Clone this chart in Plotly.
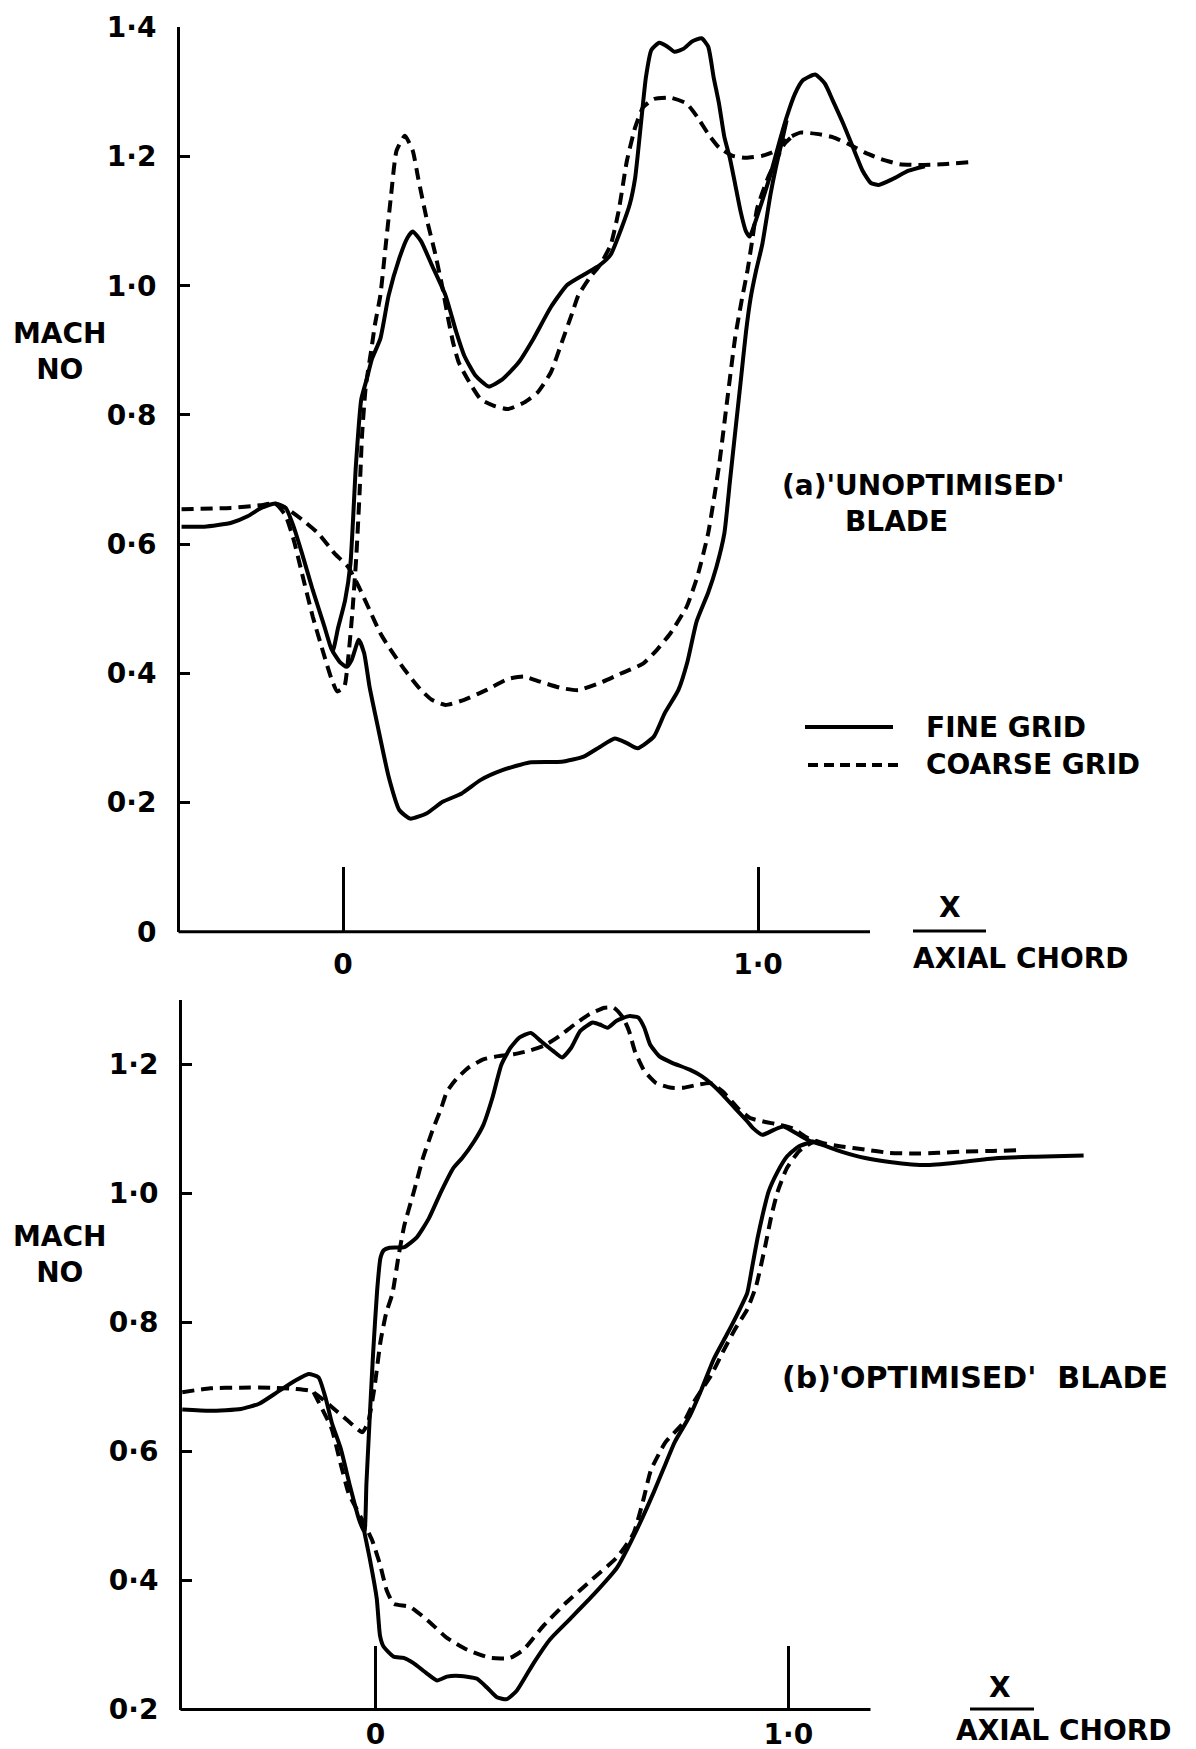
import plotly.graph_objects as go

W, H = 1196, 1749

# ---------------- data : (a) 'unoptimised' blade ----------------
# suction surface (incl. upstream and wake), x / axial chord and Mach no
a_fine_up_x = [-0.389, -0.334, -0.269, -0.230, -0.197, -0.164, -0.138, -0.119, -0.099, -0.073,
               -0.047, -0.025, -0.012, 0.005, 0.018, 0.031, 0.044, 0.057, 0.070, 0.090,
               0.110, 0.136, 0.155, 0.168, 0.188, 0.214, 0.247, 0.273, 0.292, 0.319,
               0.351, 0.384, 0.423, 0.459, 0.501, 0.540, 0.580, 0.619, 0.645, 0.671,
               0.691, 0.704, 0.717, 0.730, 0.743, 0.762, 0.782, 0.799, 0.821, 0.841,
               0.864, 0.880, 0.893, 0.906, 0.919, 0.932, 0.945, 0.958, 0.971, 0.980,
               0.991, 1.010, 1.030, 1.050, 1.069, 1.089, 1.108, 1.138, 1.161, 1.180,
               1.206, 1.232, 1.252, 1.272, 1.291, 1.324, 1.363, 1.402]
a_fine_up_m = [0.627, 0.627, 0.633, 0.643, 0.656, 0.663, 0.656, 0.627, 0.586, 0.529,
               0.477, 0.434, 0.470, 0.513, 0.570, 0.721, 0.824, 0.855, 0.887, 0.918,
               0.985, 1.043, 1.074, 1.084, 1.069, 1.032, 0.985, 0.928, 0.892, 0.861,
               0.844, 0.855, 0.881, 0.918, 0.967, 1.001, 1.017, 1.032, 1.048, 1.089,
               1.126, 1.167, 1.245, 1.323, 1.365, 1.376, 1.370, 1.362, 1.367, 1.378,
               1.383, 1.370, 1.323, 1.282, 1.230, 1.198, 1.157, 1.115, 1.084, 1.076,
               1.094, 1.131, 1.172, 1.219, 1.261, 1.297, 1.318, 1.327, 1.313, 1.287,
               1.250, 1.209, 1.178, 1.159, 1.156, 1.165, 1.178, 1.185]
# pressure surface
a_fine_lo_x = [-0.025, -0.007, 0.009, 0.021, 0.038, 0.051, 0.064, 0.084, 0.110, 0.136,
               0.162, 0.201, 0.240, 0.286, 0.332, 0.384, 0.449, 0.527, 0.580, 0.619,
               0.655, 0.684, 0.710, 0.749, 0.775, 0.808, 0.830, 0.852, 0.880, 0.900,
               0.919, 0.932, 0.945, 0.958, 0.971, 0.982, 0.996, 1.010, 1.030, 1.043,
               1.056, 1.069]
a_fine_lo_m = [0.434, 0.417, 0.410, 0.421, 0.452, 0.431, 0.379, 0.317, 0.240, 0.188,
               0.175, 0.183, 0.201, 0.214, 0.235, 0.250, 0.262, 0.263, 0.271, 0.286,
               0.299, 0.292, 0.284, 0.302, 0.338, 0.374, 0.418, 0.480, 0.525, 0.565,
               0.617, 0.695, 0.773, 0.850, 0.928, 0.980, 1.025, 1.063, 1.141, 1.183,
               1.219, 1.256]
a_coarse_up_x = [-0.389, -0.271, -0.200, -0.164, -0.139, -0.119, -0.099, -0.073, -0.047, -0.027,
                 -0.014, 0.003, 0.012, 0.022, 0.032, 0.040, 0.046, 0.055, 0.068, 0.077,
                 0.090, 0.103, 0.116, 0.129, 0.149, 0.168, 0.181, 0.201, 0.221, 0.240,
                 0.253, 0.266, 0.279, 0.305, 0.332, 0.364, 0.397, 0.436, 0.469, 0.501,
                 0.527, 0.553, 0.567, 0.593, 0.619, 0.645, 0.664, 0.684, 0.704, 0.723,
                 0.749, 0.789, 0.828, 0.854, 0.880, 0.906, 0.939, 0.971, 1.010, 1.043,
                 1.069, 1.102, 1.141, 1.180, 1.219, 1.258, 1.297, 1.342, 1.389, 1.441,
                 1.507]
a_coarse_up_m = [0.654, 0.656, 0.660, 0.663, 0.645, 0.607, 0.555, 0.488, 0.431, 0.390,
                 0.372, 0.379, 0.420, 0.490, 0.580, 0.680, 0.770, 0.845, 0.900, 0.940,
                 0.985, 1.063, 1.141, 1.209, 1.232, 1.209, 1.167, 1.105, 1.053, 0.996,
                 0.950, 0.910, 0.881, 0.850, 0.824, 0.814, 0.809, 0.819, 0.835, 0.866,
                 0.912, 0.959, 0.985, 1.011, 1.032, 1.063, 1.115, 1.193, 1.245, 1.276,
                 1.289, 1.291, 1.282, 1.261, 1.235, 1.214, 1.201, 1.198, 1.201, 1.209,
                 1.227, 1.237, 1.235, 1.230, 1.219, 1.206, 1.196, 1.188, 1.187, 1.188,
                 1.191]
a_coarse_lo_x = [-0.164, -0.138, -0.099, -0.060, -0.021, 0.012, 0.038, 0.064, 0.090, 0.110,
                 0.149, 0.188, 0.214, 0.247, 0.292, 0.345, 0.397, 0.436, 0.475, 0.527,
                 0.567, 0.619, 0.671, 0.723, 0.756, 0.789, 0.828, 0.854, 0.880, 0.906,
                 0.926, 0.945, 0.960, 0.975, 0.986, 0.998, 1.024, 1.043, 1.063, 1.089]
a_coarse_lo_m = [0.663, 0.656, 0.638, 0.617, 0.586, 0.565, 0.534, 0.498, 0.462, 0.441,
                 0.405, 0.374, 0.359, 0.351, 0.359, 0.374, 0.391, 0.395, 0.387, 0.377,
                 0.374, 0.385, 0.400, 0.415, 0.436, 0.462, 0.503, 0.550, 0.617, 0.721,
                 0.824, 0.920, 0.975, 1.025, 1.070, 1.120, 1.167, 1.193, 1.219, 1.235]

# ---------------- data : (b) 'optimised' blade ----------------
b_fine_up_x = [-0.468, -0.400, -0.326, -0.282, -0.238, -0.194, -0.162, -0.138, -0.120, -0.106,
               -0.084, -0.062, -0.040, -0.027, -0.022, -0.015, -0.006, 0.004, 0.012, 0.020,
               0.034, 0.070, 0.100, 0.129, 0.159, 0.188, 0.210, 0.239, 0.261, 0.283,
               0.305, 0.327, 0.349, 0.376, 0.401, 0.430, 0.452, 0.474, 0.496, 0.526,
               0.543, 0.562, 0.584, 0.614, 0.636, 0.651, 0.665, 0.687, 0.717, 0.761,
               0.790, 0.812, 0.841, 0.871, 0.900, 0.915, 0.937, 0.966, 0.988, 1.025,
               1.054, 1.084, 1.128, 1.186, 1.245, 1.333, 1.421, 1.509, 1.598, 1.715]
b_fine_up_m = [0.665, 0.663, 0.666, 0.674, 0.692, 0.710, 0.720, 0.715, 0.681, 0.645,
               0.604, 0.547, 0.495, 0.475, 0.550, 0.640, 0.750, 0.850, 0.900, 0.912,
               0.916, 0.917, 0.932, 0.961, 1.003, 1.039, 1.055, 1.081, 1.106, 1.148,
               1.200, 1.226, 1.242, 1.249, 1.236, 1.221, 1.211, 1.226, 1.252, 1.265,
               1.262, 1.257, 1.268, 1.275, 1.273, 1.257, 1.231, 1.213, 1.203, 1.192,
               1.182, 1.171, 1.153, 1.132, 1.112, 1.101, 1.091, 1.099, 1.104, 1.091,
               1.081, 1.075, 1.065, 1.055, 1.049, 1.044, 1.049, 1.055, 1.057, 1.059]
b_fine_lo_x = [-0.027, -0.013, 0.003, 0.011, 0.019, 0.044, 0.068, 0.092, 0.124, 0.149,
               0.173, 0.205, 0.245, 0.270, 0.294, 0.318, 0.342, 0.383, 0.423, 0.472,
               0.528, 0.585, 0.633, 0.674, 0.698, 0.725, 0.761, 0.790, 0.819, 0.849,
               0.878, 0.900, 0.912, 0.925, 0.938, 0.952, 0.974, 0.996, 1.025, 1.062]
b_fine_lo_m = [0.475, 0.431, 0.372, 0.314, 0.298, 0.282, 0.280, 0.272, 0.256, 0.245,
               0.251, 0.252, 0.248, 0.234, 0.219, 0.216, 0.229, 0.272, 0.309, 0.341,
               0.378, 0.420, 0.479, 0.537, 0.574, 0.615, 0.655, 0.697, 0.743, 0.779,
               0.815, 0.845, 0.885, 0.930, 0.968, 1.003, 1.034, 1.057, 1.073, 1.081]
b_coarse_up_x = [-0.468, -0.400, -0.326, -0.253, -0.194, -0.157, -0.128, -0.091, -0.062, -0.032,
                 -0.018, -0.003, 0.012, 0.026, 0.041, 0.056, 0.070, 0.093, 0.115, 0.137,
                 0.159, 0.173, 0.195, 0.225, 0.261, 0.298, 0.335, 0.371, 0.408, 0.445,
                 0.482, 0.518, 0.555, 0.577, 0.599, 0.614, 0.628, 0.651, 0.680, 0.717,
                 0.746, 0.783, 0.812, 0.841, 0.878, 0.907, 0.937, 0.981, 1.010, 1.047,
                 1.084, 1.128, 1.186, 1.245, 1.304, 1.363, 1.421, 1.495, 1.553]
b_coarse_up_m = [0.692, 0.698, 0.699, 0.699, 0.697, 0.694, 0.681, 0.661, 0.645, 0.630,
                 0.645, 0.697, 0.770, 0.815, 0.845, 0.904, 0.951, 1.003, 1.055, 1.096,
                 1.132, 1.158, 1.177, 1.195, 1.208, 1.213, 1.216, 1.221, 1.229, 1.244,
                 1.262, 1.278, 1.288, 1.288, 1.273, 1.252, 1.221, 1.190, 1.171, 1.164,
                 1.164, 1.169, 1.171, 1.158, 1.132, 1.117, 1.112, 1.106, 1.101, 1.086,
                 1.078, 1.073, 1.068, 1.063, 1.062, 1.063, 1.065, 1.066, 1.067]
b_coarse_lo_x = [-0.150, -0.106, -0.088, -0.065, -0.045, -0.025, -0.008, 0.011, 0.027, 0.044,
                 0.084, 0.132, 0.173, 0.221, 0.278, 0.326, 0.359, 0.407, 0.464, 0.520,
                 0.585, 0.625, 0.649, 0.667, 0.702, 0.746, 0.775, 0.812, 0.841, 0.871,
                 0.900, 0.922, 0.944, 0.959, 0.974, 0.996, 1.025, 1.054, 1.069]
b_coarse_lo_m = [0.692, 0.635, 0.590, 0.535, 0.510, 0.485, 0.462, 0.425, 0.385, 0.364,
                 0.359, 0.335, 0.311, 0.293, 0.280, 0.280, 0.293, 0.330, 0.367, 0.399,
                 0.436, 0.473, 0.526, 0.571, 0.614, 0.645, 0.681, 0.717, 0.754, 0.790,
                 0.820, 0.857, 0.919, 0.966, 1.003, 1.039, 1.065, 1.078, 1.081]

y_ticks_a = [0, 0.2, 0.4, 0.6, 0.8, 1.0, 1.2, 1.4]
y_text_a = ["0", "0·2", "0·4", "0·6", "0·8", "1·0", "1·2", "1·4"]
y_ticks_b = [0.2, 0.4, 0.6, 0.8, 1.0, 1.2]
y_text_b = ["0·2", "0·4", "0·6", "0·8", "1·0", "1·2"]
x_ticks = [0, 1.0]
x_text = ["0", "1·0"]

# ---------------- layout geometry (pixels) ----------------
FONT = "DejaVu Sans"
FS = 28
panels = {
    "a": dict(axis_px=180.0, x0_px=343.0, x1_px=758.0, end_px=870.0,
              ymin=0.0, ymin_px=931.7, ymax_px=27.3, yunit_px=646.0, xstand=13),
    "b": dict(axis_px=182.0, x0_px=375.5, x1_px=788.4, end_px=870.5,
              ymin=0.2, ymin_px=1709.5, ymax_px=1000.0, yunit_px=645.0, xstand=5),
}


def px(xp):
    return xp / W


def py(yp):
    return 1 - yp / H


TICKFONT = dict(family=FONT, size=FS, color="black", weight="bold")


def xaxis_cfg(p):
    per = p["x1_px"] - p["x0_px"]
    return dict(domain=[px(p["axis_px"]), 1.0],
                range=[(p["axis_px"] - p["x0_px"]) / per, (W - p["x0_px"]) / per],
                showline=False, showgrid=False, zeroline=False, automargin=False,
                ticks="inside", ticklen=int(round(0.1 * p["yunit_px"])), tickwidth=2.5,
                tickcolor="black", tickvals=x_ticks, ticktext=x_text,
                tickfont=TICKFONT, ticklabelstandoff=p["xstand"], fixedrange=True)


def yaxis_cfg(p, vals, texts, anchor):
    ymax = p["ymin"] + (p["ymin_px"] - p["ymax_px"]) / p["yunit_px"]
    return dict(domain=[py(p["ymin_px"]), py(p["ymax_px"])],
                range=[p["ymin"], ymax], anchor=anchor,
                showline=True, linewidth=3, linecolor="black",
                showgrid=False, zeroline=False, automargin=False,
                ticks="inside", ticklen=10, tickwidth=3, tickcolor="black",
                tickvals=vals, ticktext=texts,
                tickfont=TICKFONT, ticklabelstandoff=15, fixedrange=True)


fig = go.Figure()

SOLID = dict(color="black", width=4)
DASH = dict(color="black", width=4, dash="12px,7px")


def add(xs, ms, line, xa, ya, name):
    assert len(xs) == len(ms), name
    fig.add_trace(go.Scatter(x=xs, y=ms, mode="lines", line=dict(line, shape="spline", smoothing=0.5),
                             xaxis=xa, yaxis=ya, showlegend=False, name=name, hoverinfo="skip"))


add(a_coarse_up_x, a_coarse_up_m, DASH, "x", "y", "a coarse suction")
add(a_coarse_lo_x, a_coarse_lo_m, DASH, "x", "y", "a coarse pressure")
add(a_fine_up_x, a_fine_up_m, SOLID, "x", "y", "a fine suction")
add(a_fine_lo_x, a_fine_lo_m, SOLID, "x", "y", "a fine pressure")
add(b_coarse_up_x, b_coarse_up_m, DASH, "x2", "y2", "b coarse suction")
add(b_coarse_lo_x, b_coarse_lo_m, DASH, "x2", "y2", "b coarse pressure")
add(b_fine_up_x, b_fine_up_m, SOLID, "x2", "y2", "b fine suction")
add(b_fine_lo_x, b_fine_lo_m, SOLID, "x2", "y2", "b fine pressure")

shapes = []
annots = []
for key in ("a", "b"):
    p = panels[key]
    # x-axis line (ends before the curves do)
    shapes.append(dict(type="line", xref="paper", yref="paper",
                       x0=px(p["axis_px"] - 1.5), x1=px(p["end_px"]),
                       y0=py(p["ymin_px"]), y1=py(p["ymin_px"]),
                       line=dict(color="black", width=3)))


def text(s, xp, yp, xanchor="left", size=FS):
    annots.append(dict(text=s, x=px(xp), y=py(yp), xref="paper", yref="paper",
                       xanchor=xanchor, yanchor="middle", showarrow=False,
                       font=dict(family=FONT, size=size, color="black", weight="bold"),
                       align="center"))


# axis titles
text("MACH<br>NO", 60, 352, "center")
text("MACH<br>NO", 60, 1254, "center")
text("X", 950, 908, "center")
shapes.append(dict(type="line", xref="paper", yref="paper", x0=px(913), x1=px(986),
                   y0=py(931), y1=py(931), line=dict(color="black", width=3)))
text("AXIAL CHORD", 911, 958)
text("X", 1000, 1687, "center")
shapes.append(dict(type="line", xref="paper", yref="paper", x0=px(970), x1=px(1034),
                   y0=py(1709), y1=py(1709), line=dict(color="black", width=3)))
text("AXIAL CHORD", 954, 1730)

# panel captions
text("(a)'UNOPTIMISED'", 780, 485)
text("BLADE", 843, 521)
text("(b)'OPTIMISED'\u00a0 BLADE", 780, 1377, size=30)

# legend
shapes.append(dict(type="line", xref="paper", yref="paper", x0=px(805), x1=px(893),
                   y0=py(727), y1=py(727), line=dict(color="black", width=4)))
shapes.append(dict(type="line", xref="paper", yref="paper", x0=px(808), x1=px(902),
                   y0=py(765), y1=py(765), line=dict(color="black", width=4, dash="10px,6px")))
text("FINE GRID", 924, 727)
text("COARSE GRID", 924, 765)

fig.update_layout(
    width=W, height=H, margin=dict(l=0, r=0, t=0, b=0, autoexpand=False),
    paper_bgcolor="white", plot_bgcolor="white",
    xaxis=xaxis_cfg(panels["a"]),
    yaxis=yaxis_cfg(panels["a"], y_ticks_a, y_text_a, "x"),
    xaxis2=xaxis_cfg(panels["b"]) | dict(anchor="y2"),
    yaxis2=yaxis_cfg(panels["b"], y_ticks_b, y_text_b, "x2"),
    shapes=shapes, annotations=annots, showlegend=False,
    font=dict(family=FONT, color="black"),
)

fig.write_html("out.html")
